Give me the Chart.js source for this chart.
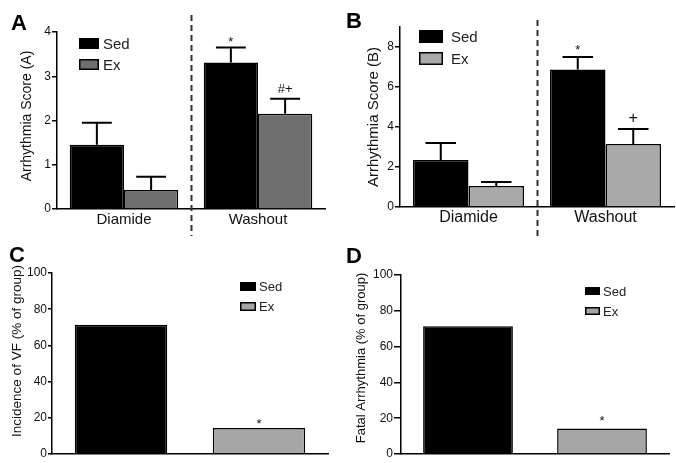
<!DOCTYPE html>
<html>
<head>
<meta charset="utf-8">
<script src="https://cdn.jsdelivr.net/npm/chart.js@4/dist/chart.umd.min.js"></script>
<style>
  html, body { margin: 0; padding: 0; background: #fff; }
  body { width: 676px; height: 463px; position: relative; overflow: hidden; }
  canvas { position: absolute; }
</style>
</head>
<body>
<canvas id="cA" width="338" height="240" style="left:0;top:0"></canvas>
<canvas id="cB" width="338" height="240" style="left:338px;top:0"></canvas>
<canvas id="cC" width="338" height="231" style="left:0;top:232px"></canvas>
<canvas id="cD" width="338" height="231" style="left:338px;top:232px"></canvas>
<script>
// ---------------- DATA ----------------
const groupsAB = ["Diamide", "Washout"];
const seriesNames = ["Sed", "Ex"];

const scoreA_Sed = [1.45, 3.31];
const scoreA_SedSEM = [0.50, 0.34];
const scoreA_Ex = [0.43, 2.15];
const scoreA_ExSEM = [0.30, 0.34];
const marksA_Sed = ["", "*"];
const marksA_Ex = ["", "#+"];
const ticksA = [0, 1, 2, 3, 4];

const scoreB_Sed = [2.35, 6.88];
const scoreB_SedSEM = [0.85, 0.62];
const scoreB_Ex = [1.05, 3.15];
const scoreB_ExSEM = [0.20, 0.75];
const marksB_Sed = ["", "*"];
const marksB_Ex = ["", "+"];
const ticksB = [0, 2, 4, 6, 8];

const groupsCD = ["Sed", "Ex"];
const vfIncidence = [71.4, 14.3];
const fatalArrhythmia = [71.4, 14.3];
const marksC = ["", "*"];
const marksD = ["", "*"];
const ticksCD = [0, 20, 40, 60, 80, 100];

const titleA = "Arrhythmia Score (A)";
const titleB = "Arrhythmia Score (B)";
const titleC = "Incidence of VF (% of group)";
const titleD = "Fatal Arrhythmia (% of group)";

// ---------------- DRAWING ----------------
const FAM = "'Liberation Sans', Arial, Helvetica, sans-serif";

const figPlugin = {
  id: 'fig',
  afterDatasetsDraw(chart, args, o) {
    const ctx = chart.ctx, y = chart.scales.y;
    chart.data.datasets.forEach((ds, i) => {
      const meta = chart.getDatasetMeta(i);
      meta.data.forEach((bar, j) => {
        const v = ds.data[j];
        let top = bar.y;
        if (ds.sem) {
          top = y.getPixelForValue(v + ds.sem[j]);
          const cw = bar.width * o.capRatio;
          ctx.save();
          ctx.strokeStyle = '#000'; ctx.lineWidth = o.errWidth;
          ctx.beginPath();
          ctx.moveTo(bar.x, bar.y); ctx.lineTo(bar.x, top);
          ctx.moveTo(bar.x - cw / 2, top); ctx.lineTo(bar.x + cw / 2, top);
          ctx.stroke();
          ctx.restore();
        }
        if (ds.marks && ds.marks[j]) {
          ctx.save();
          ctx.fillStyle = '#111';
          ctx.font = (o.markSize[i] || 13) + 'px ' + FAM;
          ctx.textAlign = 'center'; ctx.textBaseline = 'alphabetic';
          ctx.fillText(ds.marks[j], bar.x, top - o.markDy[i]);
          ctx.restore();
        }
      });
    });
  },
  afterDraw(chart, args, o) {
    const ctx = chart.ctx;
    // dashed divider
    if (o.divider) {
      const x = Math.round(chart.scales.x.getPixelForValue(0.5)) + 0.5;
      ctx.save();
      ctx.strokeStyle = '#333'; ctx.lineWidth = 2; ctx.setLineDash([6, 4]);
      ctx.beginPath(); ctx.moveTo(x, o.divider[0]); ctx.lineTo(x, o.divider[1]); ctx.stroke();
      ctx.restore();
    }
    // legend
    const L = o.legend;
    L.items.forEach((it, k) => {
      const yy = L.y + k * L.step;
      ctx.save();
      ctx.fillStyle = it.color;
      ctx.fillRect(L.x, yy, L.w, L.h);
      ctx.strokeStyle = '#000'; ctx.lineWidth = 1.5;
      ctx.strokeRect(L.x + 0.75, yy + 0.75, L.w - 1.5, L.h - 1.5);
      ctx.fillStyle = '#222';
      ctx.font = L.font + 'px ' + FAM;
      ctx.textAlign = 'left'; ctx.textBaseline = 'middle';
      ctx.fillText(it.label, L.x + L.w + L.tgap, yy + L.h / 2 + 1);
      ctx.restore();
    });
    // y title
    const T = o.ytitle;
    ctx.save();
    ctx.translate(T.x, T.y); ctx.rotate(-Math.PI / 2);
    ctx.fillStyle = '#111'; ctx.font = T.size + 'px ' + FAM;
    ctx.textAlign = 'center'; ctx.textBaseline = 'middle';
    ctx.fillText(T.text, 0, 0);
    ctx.restore();
    // panel letter
    const P = o.letter;
    ctx.save();
    ctx.fillStyle = '#000'; ctx.font = 'bold 22px ' + FAM;
    ctx.textAlign = 'left'; ctx.textBaseline = 'alphabetic';
    ctx.fillText(P.text, P.x, P.y);
    ctx.restore();
  }
};

function yScale(max, ticks, yW, fontSize, tickLen) {
  return {
    min: 0, max: max,
    afterBuildTicks: s => { s.ticks = ticks.map(v => ({ value: v })); },
    grid: { drawOnChartArea: false, color: '#000', lineWidth: 1.5, tickLength: tickLen },
    border: { color: '#000', width: 1.5 },
    ticks: { font: { size: fontSize, family: FAM }, color: '#111', padding: 1 },
    afterFit: s => { s.width = yW; }
  };
}

function grouped(id, c) {
  return new Chart(document.getElementById(id), {
    type: 'bar',
    data: {
      labels: groupsAB,
      datasets: [
        { label: seriesNames[0], data: c.sed, sem: c.sedSem, marks: c.sedMarks,
          backgroundColor: '#000', borderColor: '#000', borderWidth: 1.5,
          categoryPercentage: 0.81, barPercentage: 1 },
        { label: seriesNames[1], data: c.ex, sem: c.exSem, marks: c.exMarks,
          backgroundColor: c.exColor, borderColor: '#000', borderWidth: 1.5,
          categoryPercentage: 0.81, barPercentage: 1 }
      ]
    },
    options: {
      responsive: false, animation: false, events: [],
      layout: { padding: c.pad },
      plugins: {
        legend: { display: false }, tooltip: { enabled: false },
        fig: {
          capRatio: 0.55, errWidth: 2,
          markSize: c.markSize, markDy: c.markDy,
          divider: c.divider,
          legend: Object.assign({ items: [
            { label: seriesNames[0], color: '#000' },
            { label: seriesNames[1], color: c.exColor }] }, c.legend),
          ytitle: c.ytitle, letter: c.letter
        }
      },
      scales: {
        x: {
          grid: { display: false, drawTicks: false },
          border: { color: '#000', width: 1.5 },
          ticks: { font: { size: c.xFont, family: FAM }, color: '#111', padding: c.xPad },
          afterFit: s => { s.height = c.xH; }
        },
        y: yScale(c.max, c.ticks, c.yW, 12, 5)
      }
    },
    plugins: [figPlugin]
  });
}

function single(id, c) {
  return new Chart(document.getElementById(id), {
    type: 'bar',
    data: {
      labels: groupsCD,
      datasets: [
        { label: c.title, data: c.values, marks: c.marks,
          backgroundColor: ['#000', c.exColor], borderColor: '#000', borderWidth: 1.5,
          categoryPercentage: 1, barPercentage: 0.67 }
      ]
    },
    options: {
      responsive: false, animation: false, events: [],
      layout: { padding: c.pad },
      plugins: {
        legend: { display: false }, tooltip: { enabled: false },
        fig: {
          capRatio: 0.55, errWidth: 2,
          markSize: [13], markDy: c.markDy,
          divider: null,
          legend: Object.assign({ items: [
            { label: groupsCD[0], color: '#000' },
            { label: groupsCD[1], color: c.exColor }] }, c.legend),
          ytitle: c.ytitle, letter: c.letter
        }
      },
      scales: {
        x: {
          grid: { display: false, drawTicks: false },
          border: { color: '#000', width: 1.5 },
          ticks: { display: false },
          afterFit: s => { s.height = c.xH; }
        },
        y: yScale(100, ticksCD, c.yW, 12, c.tickLen)
      }
    },
    plugins: [figPlugin]
  });
}

grouped('cA', {
  sed: scoreA_Sed, sedSem: scoreA_SedSEM, sedMarks: marksA_Sed,
  ex: scoreA_Ex, exSem: scoreA_ExSEM, exMarks: marksA_Ex,
  exColor: '#6e6e6e', max: 4, ticks: ticksA,
  pad: { top: 32, right: 13, left: 0, bottom: 0 }, yW: 57, xH: 31, xFont: 15, xPad: 2,
  markSize: [13, 13], markDy: [1, 6],
  divider: [15, 236],
  legend: { x: 79, y: 38, w: 20, h: 11, step: 21, font: 15, tgap: 4 },
  ytitle: { text: titleA, x: 27, y: 116, size: 14 },
  letter: { text: 'A', x: 11, y: 30 }
});

grouped('cB', {
  sed: scoreB_Sed, sedSem: scoreB_SedSEM, sedMarks: marksB_Sed,
  ex: scoreB_Ex, exSem: scoreB_ExSEM, exMarks: marksB_Ex,
  exColor: '#a9a9a9', max: 9, ticks: ticksB,
  pad: { top: 27, right: 2, left: 0, bottom: 0 }, yW: 62, xH: 33, xFont: 16, xPad: 1,
  markSize: [13, 16], markDy: [3, 6],
  divider: [20, 236],
  legend: { x: 81, y: 30, w: 24, h: 13, step: 22, font: 15, tgap: 8 },
  ytitle: { text: titleB, x: 36, y: 117, size: 15 },
  letter: { text: 'B', x: 8, y: 28 }
});

single('cC', {
  title: titleC, values: vfIncidence, marks: marksC, exColor: '#a6a6a6',
  pad: { top: 41, right: 10, left: 0, bottom: 0 }, yW: 52, xH: 9, tickLen: 4,
  markDy: [0],
  legend: { x: 240, y: 50, w: 16, h: 9, step: 20, font: 13, tgap: 3 },
  ytitle: { text: titleC, x: 17, y: 119, size: 13.5 },
  letter: { text: 'C', x: 9, y: 30 }
});

single('cD', {
  title: titleD, values: fatalArrhythmia, marks: marksD, exColor: '#a6a6a6',
  pad: { top: 43, right: 7, left: 0, bottom: 0 }, yW: 63, xH: 9, tickLen: 7,
  markDy: [3],
  legend: { x: 247, y: 55, w: 15, h: 8, step: 20, font: 13, tgap: 3 },
  ytitle: { text: titleD, x: 23, y: 126, size: 13 },
  letter: { text: 'D', x: 8, y: 31 }
});
</script>
</body>
</html>
